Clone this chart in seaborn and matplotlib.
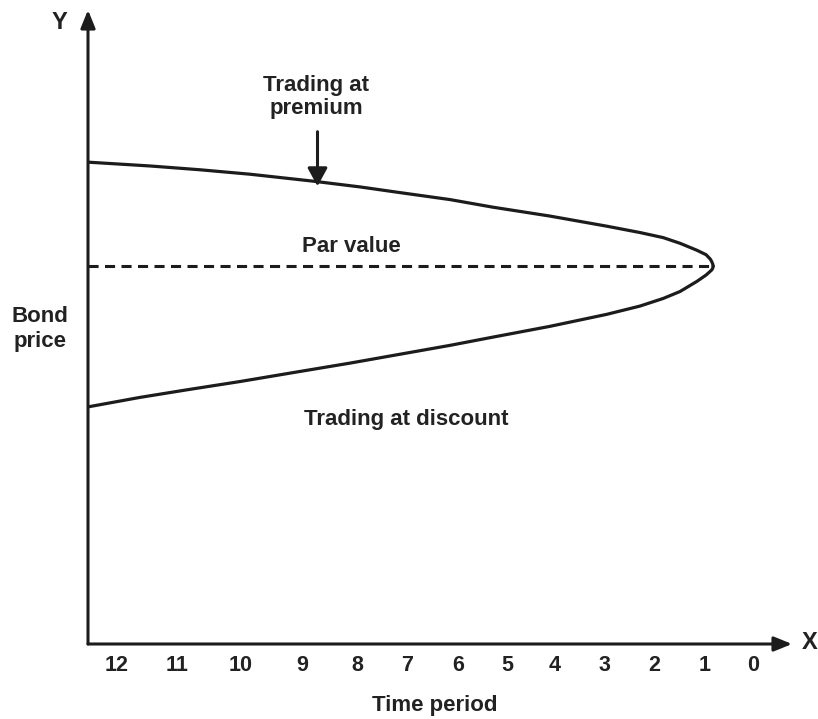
import pandas as pd
import matplotlib
matplotlib.use('Agg')
import matplotlib.pyplot as plt
import seaborn as sns

# positions along the time axis (axis runs 0..100 left to right)
tick_pos = [4.1, 12.6, 21.7, 30.4, 38.2, 45.3, 52.6, 59.5, 66.3, 73.4, 80.5, 87.6, 94.5]
tick_labels = ['12', '11', '10', '9', '8', '7', '6', '5', '4', '3', '2', '1', '0']

# bond price (0..100 scale on the y axis)
premium_x = [0, 8.8, 15.9, 23.0, 32.0, 38.6, 44.3, 51.4, 57.5, 65.6, 73.7,
             78.4, 81.7, 84.1, 86.5, 87.8, 88.4, 88.6, 88.75, 88.8]
premium_y = [76.0, 75.4, 74.8, 74.1, 73.0, 72.1, 71.2, 70.1, 68.9, 67.5, 65.9,
             64.9, 64.1, 63.2, 62.1, 61.4, 60.7, 60.3, 59.9, 59.6]
discount_x = [0, 7.4, 14.1, 21.6, 29.1, 37.2, 44.3, 51.4, 57.5, 65.6, 73.7,
              78.4, 81.7, 84.1, 86.5, 87.8, 88.4, 88.6, 88.75, 88.8]
discount_y = [37.4, 38.9, 40.1, 41.4, 42.8, 44.3, 45.7, 47.1, 48.4, 50.1, 52.0,
              53.3, 54.5, 55.6, 57.2, 58.2, 58.8, 59.0, 59.3, 59.6]
par_x = [0, 88.8]
par_y = [59.6, 59.6]

ink = '#1c1c1c'
txt = '#222222'

sns.set_style('white')
plt.rcParams['font.family'] = ['Liberation Sans', 'DejaVu Sans']
plt.rcParams['font.weight'] = 'bold'

fig = plt.figure(figsize=(8.18, 7.19), dpi=100)
ax = fig.add_axes([88/818, 75/719, 704/818, 634/719])
ax.set_xlim(0, 100)
ax.set_ylim(0, 100)

curves = pd.concat([
    pd.DataFrame({'t': premium_x, 'price': premium_y, 'curve': 'premium'}),
    pd.DataFrame({'t': discount_x, 'price': discount_y, 'curve': 'discount'}),
])
sns.lineplot(data=curves, x='t', y='price', units='curve', estimator=None,
             sort=False, color=ink, lw=2.3, ax=ax,
             solid_joinstyle='round', solid_capstyle='round')
sns.lineplot(x=par_x, y=par_y, color=ink, lw=2.2,
             linestyle=(0, (3.3, 2.1)), ax=ax)

# axes drawn as arrows
for s in ax.spines.values():
    s.set_visible(False)
arrow = dict(arrowstyle='-|>,head_length=0.54,head_width=0.22', lw=2.2,
             color=ink, shrinkA=0, shrinkB=0, mutation_scale=20)
ax.annotate('', xy=(1, 0), xytext=(0, 0), xycoords='axes fraction',
            arrowprops=arrow, annotation_clip=False)
ax.annotate('', xy=(0, 1), xytext=(0, 0), xycoords='axes fraction',
            arrowprops=arrow, annotation_clip=False)

ax.set_xticks(tick_pos, tick_labels)
ax.set_yticks([])
ax.tick_params(axis='x', length=0, pad=8, labelsize=15.5, labelcolor=txt)
for lab in ax.get_xticklabels():
    lab.set_fontweight('bold')
ax.set_xlabel('')
ax.set_ylabel('')

# labels
ax.text(49.3, -10.6, 'Time period', ha='center', va='baseline', fontsize=16,
        fontweight='bold', color=txt, clip_on=False)
ax.text(-6.8, 49.7, 'Bond\nprice', ha='center', va='center', fontsize=16,
        fontweight='bold', color=txt, linespacing=1.2, clip_on=False)
ax.text(-4.0, 98.0, 'Y', ha='center', va='center', fontsize=17,
        fontweight='bold', color=txt, clip_on=False)
ax.text(102.5, 0.2, 'X', ha='center', va='center', fontsize=17,
        fontweight='bold', color=txt, clip_on=False)

ax.text(32.4, 86.3, 'Trading at\npremium', ha='center', va='center',
        fontsize=16, fontweight='bold', color=txt, linespacing=1.15)
ax.annotate('', xy=(32.6, 72.2), xytext=(32.6, 80.8),
            arrowprops=dict(arrowstyle='-|>,head_length=0.55,head_width=0.3',
                            lw=2.2, color=ink, shrinkA=0, shrinkB=0,
                            mutation_scale=20))
ax.text(37.4, 61.8, 'Par value', ha='center', va='baseline', fontsize=16,
        fontweight='bold', color=txt)
ax.text(45.2, 34.5, 'Trading at discount', ha='center', va='baseline',
        fontsize=16, fontweight='bold', color=txt)

fig.savefig('out.png', dpi=100, facecolor='white')
